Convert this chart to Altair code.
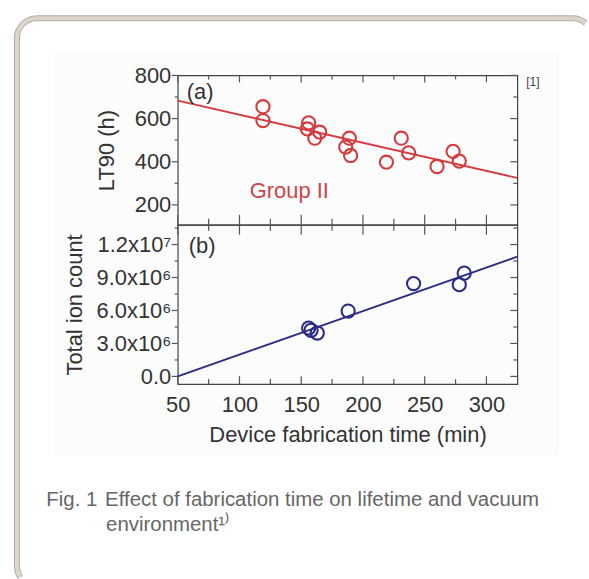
import math
import altair as alt
import pandas as pd

# ---------------- data ----------------
g2_time = [119, 119, 156, 155, 161, 165, 189, 186, 190, 219, 231, 237, 260, 273, 278]
g2_lt90 = [655, 591, 580, 552, 509, 537, 509, 468, 429, 398, 509, 441, 378, 448, 403]
fit_a_time = [50, 325]
fit_a_lt90 = [683, 325]

ion_time = [156, 158, 163, 188, 241, 278, 282]
ion_count = [4400000, 4200000, 3950000, 5950000, 8450000, 8350000, 9400000]
fit_b_time = [50, 325]
fit_b_count = [0, 10900000]

x_major = [50, 100, 150, 200, 250, 300]
x_minor = [75, 125, 175, 225, 275]
lt_major = [200, 400, 600, 800]
lt_minor = [300, 500, 700]
ion_major = [0, 3000000, 6000000, 9000000, 12000000]
ion_minor = [1500000, 4500000, 7500000, 10500000, 13500000]
ion_labels = ["0.0", "3.0x10⁶", "6.0x10⁶", "9.0x10⁶", "1.2x10⁷"]

# ---------------- styles ----------------
FONT = "Liberation Sans"
RED = "#d63a3c"
NAVY = "#2c2c86"
TICK = "#555555"
TXT = "#333333"
W, H1, H2 = 341, 150, 160
OX, OY = 177, 73          # page position of the top panel's plot origin
OY2 = OY + H1             # page position of the bottom panel's plot origin

dummy = pd.DataFrame({"k": [0]})

xs = alt.Scale(domain=[50, 325], nice=False, zero=False)
ys_a = alt.Scale(domain=[108, 800], nice=False, zero=False)
ys_b = alt.Scale(domain=[-700000, 13800000], nice=False, zero=False)

# axes (the same object is given to every layer of a panel so that they merge cleanly)
yaxis_a = alt.Axis(values=lt_major, ticks=False, tickSize=0, domain=False, grid=False,
                   labelPadding=7, title="LT90 (h)", titlePadding=16, zindex=1)
label_expr = " : ".join(f"datum.value == {v} ? '{lab}'" for v, lab in zip(ion_major, ion_labels)) + " : ''"
yaxis_b = alt.Axis(values=ion_major, labelExpr=label_expr, ticks=False, tickSize=0, domain=False,
                   grid=False, labelPadding=7, title="Total ion count", titlePadding=10, zindex=1)
xaxis_b = alt.Axis(values=x_major, ticks=False, tickSize=0, domain=False, grid=False,
                   labelPadding=11, labelFlush=False, title="Device fabrication time (min)",
                   titlePadding=9, zindex=1)


def xticks(vals, y0, y1, axis):
    return alt.Chart(pd.DataFrame({"t": vals})).mark_rule(color=TICK, strokeWidth=1.2).encode(
        x=alt.X("t:Q", scale=xs, axis=axis), y=alt.value(y0), y2=alt.value(y1))


def yticks(vals, scale, x0, x1, axis):
    return alt.Chart(pd.DataFrame({"v": vals})).mark_rule(color=TICK, strokeWidth=1.2).encode(
        y=alt.Y("v:Q", scale=scale, axis=axis), x=alt.value(x0), x2=alt.value(x1))


def text(s, x, y, color=TXT, size=22, align="left", baseline="middle"):
    return alt.Chart(dummy).mark_text(text=s, font=FONT, fontSize=size, color=color,
                                      align=align, baseline=baseline).encode(
        x=alt.value(x), y=alt.value(y))


# ---------------- decorative frame (page coordinates -> top panel) ----------------
def hline(x0, x1, y, color, sw):
    return alt.Chart(dummy).mark_rule(color=color, strokeWidth=sw).encode(
        x=alt.value(x0 - OX), x2=alt.value(x1 - OX), y=alt.value(y - OY))


def vline(y0, y1, x, color, sw):
    return alt.Chart(dummy).mark_rule(color=color, strokeWidth=sw).encode(
        y=alt.value(y0 - OY), y2=alt.value(y1 - OY), x=alt.value(x - OX))


def ring(cx, cy, t0, t1, r_in, r_out, color):
    return alt.Chart(dummy).mark_arc().encode(
        x=alt.value(cx - OX), y=alt.value(cy - OY),
        theta=alt.value(t0), theta2=alt.value(t1),
        radius=alt.value(r_out), radius2=alt.value(r_in),
        fill=alt.value(color))


FR_DARK, FR_LIGHT = "#b3ada5", "#dbd5cd"
E = 15.5
frame = []
for col, sw, ri, ro in [(FR_DARK, 6, 17, 23), (FR_LIGHT, 4, 18, 22)]:
    frame += [
        hline(35.5, 573.5, E, col, sw),
        vline(35.5, 566, E, col, sw),
        ring(35.5, 35.5, 1.5 * math.pi, 2 * math.pi, ri, ro, col),
        ring(573.5, 35.5, 0.0, 0.72, ri, ro, col),
        ring(35.5, 566, 4.13, 1.5 * math.pi, ri, ro, col),
    ]

bg = alt.Chart(dummy).mark_rect(color="#000000", opacity=0.012).encode(
    x=alt.value(53 - OX), x2=alt.value(560 - OX), y=alt.value(50 - OY), y2=alt.value(455 - OY))

# ---------------- top panel ----------------
pts_a = alt.Chart(pd.DataFrame({"t": g2_time, "v": g2_lt90})).mark_point(
    shape="circle", filled=False, size=175, strokeWidth=2.1, color=RED, opacity=1).encode(
    x=alt.X("t:Q", scale=xs, axis=None), y=alt.Y("v:Q", scale=ys_a, axis=yaxis_a))
line_a = alt.Chart(pd.DataFrame({"t": fit_a_time, "v": fit_a_lt90})).mark_line(
    color=RED, strokeWidth=1.8).encode(
    x=alt.X("t:Q", scale=xs, axis=None), y=alt.Y("v:Q", scale=ys_a, axis=yaxis_a))

top = alt.layer(
    bg, *frame,
    line_a, pts_a,
    xticks(x_major, 0, 7, None), xticks(x_minor, 0, 4, None),
    xticks(x_major, H1, H1 - 10, None), xticks(x_minor, H1, H1 - 6, None),
    yticks(lt_major, ys_a, 0, -6, yaxis_a), yticks(lt_minor, ys_a, 0, -3, yaxis_a),
    yticks(lt_major, ys_a, W, W - 7, yaxis_a), yticks(lt_minor, ys_a, W, W - 4, yaxis_a),
    text("(a)", 9, 17),
    text("Group II", 112, 116, color="#cf4446", align="center"),
    text("[1]", 350, 7, color="#444444", size=12),
).properties(width=W, height=H1)

# ---------------- bottom panel ----------------
pts_b = alt.Chart(pd.DataFrame({"t": ion_time, "v": ion_count})).mark_point(
    shape="circle", filled=False, size=175, strokeWidth=2.1, color=NAVY, opacity=1).encode(
    x=alt.X("t:Q", scale=xs, axis=xaxis_b), y=alt.Y("v:Q", scale=ys_b, axis=yaxis_b))
line_b = alt.Chart(pd.DataFrame({"t": fit_b_time, "v": fit_b_count})).mark_line(
    color=NAVY, strokeWidth=1.8).encode(
    x=alt.X("t:Q", scale=xs, axis=xaxis_b), y=alt.Y("v:Q", scale=ys_b, axis=yaxis_b))

bottom = alt.layer(
    line_b, pts_b,
    xticks(x_major, 0, 10, xaxis_b), xticks(x_minor, 0, 6, xaxis_b),
    xticks(x_major, H2, H2 - 8, xaxis_b), xticks(x_minor, H2, H2 - 5, xaxis_b),
    yticks(ion_major, ys_b, 0, -6, yaxis_b), yticks(ion_minor, ys_b, 0, -3, yaxis_b),
    yticks(ion_major, ys_b, W, W - 7, yaxis_b), yticks(ion_minor, ys_b, W, W - 4, yaxis_b),
    text("(b)", 11, 21),
    text("Fig. 1", 45 - OX, 505 - OY2, color="#666666", size=20.5, baseline="alphabetic"),
    text("Effect of fabrication time on lifetime and vacuum", 104 - OX, 505 - OY2,
         color="#666666", size=20.5, baseline="alphabetic"),
    text("environment¹⁾", 105 - OX, 531 - OY2, color="#666666", size=20.5, baseline="alphabetic"),
).properties(width=W, height=H2)

chart = alt.vconcat(top, bottom, spacing=0, bounds="flush").properties(
    padding={"left": 12.5, "top": 12.5, "right": 0, "bottom": 0},
    background="#ffffff",
).configure(font=FONT).configure_view(
    stroke="#444444", strokeWidth=1.2
).configure_axis(
    labelFont=FONT, labelFontSize=22, labelColor=TXT,
    titleFont=FONT, titleFontSize=22, titleFontWeight="normal", titleColor=TXT,
)

chart.save("out.html", embed_options={"renderer": "svg", "actions": False})
